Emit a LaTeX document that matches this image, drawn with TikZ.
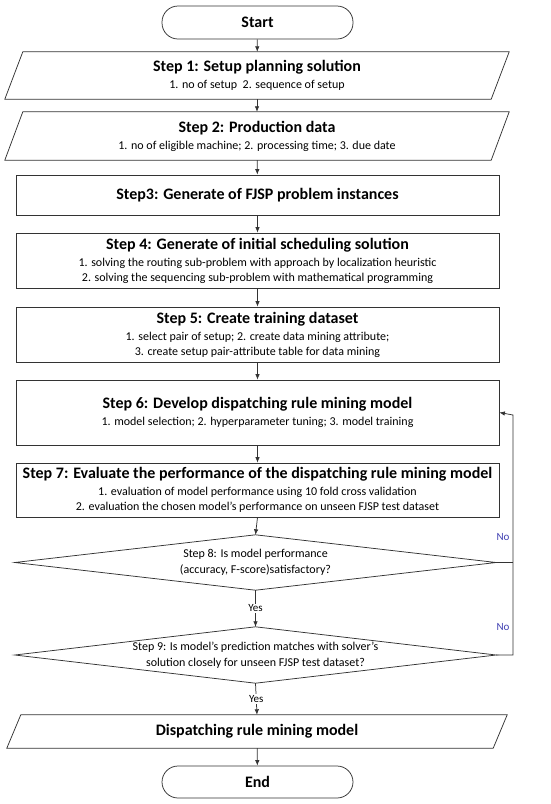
\documentclass[tikz,border=0pt]{standalone}
\usepackage{fontspec}
\setmainfont{Carlito}
\usetikzlibrary{arrows.meta}
\newcommand{\ttl}[1]{{\fontsize{16}{18}\selectfont\bfseries #1}}
\newcommand{\subtxt}{\fontsize{12}{15}\selectfont}
\begin{document}
\begin{tikzpicture}[x=1pt,y=-1pt,
  line/.style={draw=black!80, line width=0.75pt},
  arr/.style={line, -{Latex[length=5.5pt,width=4.5pt]}},
  box/.style={line, rectangle, minimum width=483pt, align=center, inner sep=0pt, font=\subtxt},
  io/.style={rectangle, minimum width=486pt, align=center, inner sep=0pt, font=\subtxt},
  term/.style={line, rectangle, rounded corners=16pt, minimum width=191pt, inner sep=0pt},
  cond/.style={rectangle, minimum width=481pt, align=center, inner sep=0pt, font=\fontsize{12}{16}\selectfont},
  lbl/.style={fill=white, inner sep=1pt, font=\fontsize{11}{12}\selectfont},
  nolbl/.style={text=blue!60!black!75, font=\fontsize{11}{12}\selectfont}]
\useasboundingbox (0,0) rectangle (550,804);
% terminals
\node[term, minimum height=33pt] (start) at (257.5,22.5) {\ttl{Start}};
\node[term, minimum height=32pt] (end) at (257.5,782) {\ttl{End}};
% input / output
\node[io, minimum height=47pt] (s1) at (257,75.5) {\ttl{Step 1: Setup planning solution}\\[2pt] 1. no of setup~~2. sequence of setup};
\node[io, minimum height=48pt] (s2) at (257,136) {\ttl{Step 2: Production data}\\[2pt] 1. no of eligible machine; 2. processing time; 3. due date};
\node[io, minimum height=33pt] (model) at (257,731.5) {\ttl{Dispatching rule mining model}};
\draw[line] ([xshift=9pt]s1.north west) -- ([xshift=9pt]s1.north east) -- ([xshift=-9pt]s1.south east) -- ([xshift=-9pt]s1.south west) -- cycle;
\draw[line] ([xshift=9pt]s2.north west) -- ([xshift=9pt]s2.north east) -- ([xshift=-9pt]s2.south east) -- ([xshift=-9pt]s2.south west) -- cycle;
\draw[line] ([xshift=7pt]model.north west) -- ([xshift=7pt]model.north east) -- ([xshift=-7pt]model.south east) -- ([xshift=-7pt]model.south west) -- cycle;
% process steps
\node[box, minimum height=40pt] (s3) at (257.5,195) {\ttl{Step3: Generate of FJSP problem instances}};
\node[box, minimum height=55pt] (s4) at (257.5,260.5) {\ttl{Step 4: Generate of initial scheduling solution}\\[2pt] 1. solving the routing sub-problem with approach by localization heuristic\\ 2. solving the sequencing sub-problem with mathematical programming};
\node[box, minimum height=55pt] (s5) at (257.5,334.5) {\ttl{Step 5: Create training dataset}\\[2pt] 1. select pair of setup; 2. create data mining attribute;\\ 3. create setup pair-attribute table for data mining};
\node[box, minimum height=65pt] (s6) at (257.5,412.5) {\ttl{Step 6: Develop dispatching rule mining model}\\[2pt] 1. model selection; 2. hyperparameter tuning; 3. model training};
\node[box, minimum height=54pt] (s7) at (257.5,490) {\ttl{Step 7: Evaluate the performance of the dispatching rule mining model}\\[2pt] 1. evaluation of model performance using 10 fold cross validation\\ 2. evaluation the chosen model's performance on unseen FJSP test dataset};
% decisions
\node[cond, minimum height=55pt] (d8) at (255.5,562.5) {Step 8: Is model performance\\ (accuracy, F-score)satisfactory?};
\node[cond, minimum height=56pt] (d9) at (255.5,655) {Step 9: Is model's prediction matches with solver's\\ solution closely for unseen FJSP test dataset?};
\draw[line] (d8.north) -- (d8.east) -- (d8.south) -- (d8.west) -- cycle;
\draw[line] (d9.north) -- (d9.east) -- (d9.south) -- (d9.west) -- cycle;
\coordinate (fb) at (513,415);
% main flow
\draw[arr] (start) -- (s1);
\draw[arr] (s1) -- (s2);
\draw[arr] (s2) -- (s3);
\draw[arr] (s3) -- (s4);
\draw[arr] (s4) -- (s5);
\draw[arr] (s5) -- (s6);
\draw[arr] (s6) -- (s7);
\draw[arr] (s7.south) -- (d8.north);
\draw[arr] (d8.south) -- node[lbl] (yes8) {Yes} (d9.north);
\draw[arr] (d9.south) -- node[lbl] (yes9) {Yes} (model.north);
\draw[arr] (model) -- (end);
% feedback loop
\draw[line] (d8.east) -- (d8.east -| fb);
\draw[arr] (d9.east) -- (d9.east -| fb) -- (fb) -- (s6.east);
\node[nolbl] (no8) at (503,537) {No};
\node[nolbl] (no9) at (503,627) {No};
\end{tikzpicture}
\end{document}
